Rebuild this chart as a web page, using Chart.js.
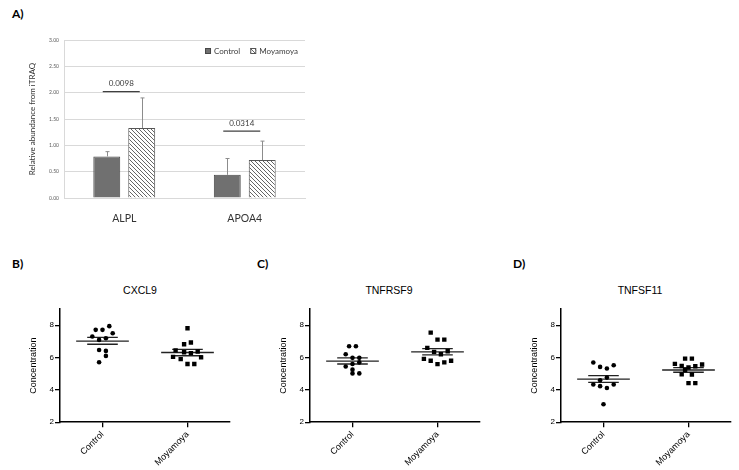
<!DOCTYPE html>
<html>
<head>
<meta charset="utf-8">
<script src="https://cdn.jsdelivr.net/npm/chart.js@4.4.1/dist/chart.umd.min.js"></script>
<style>
  body { margin: 0; background: #fff; }
  #wrap { position: relative; width: 739px; height: 470px; overflow: hidden; }
  canvas { position: absolute; }
  .lbl { position: absolute; font-family: Lato, sans-serif; font-weight: bold; font-size: 12px; color: #000; line-height: 14px; }
  .ttl { position: absolute; width: 100px; text-align: center; font-family: "Liberation Sans", Arial, sans-serif; font-size: 10.5px; color: #000; line-height: 12px; }
</style>
</head>
<body>
<div id="wrap">
  <div class="lbl" style="left:12px;top:7px">A)</div>
  <div class="lbl" style="left:12px;top:257px">B)</div>
  <div class="lbl" style="left:257px;top:257px">C)</div>
  <div class="lbl" style="left:513px;top:257px">D)</div>
  <div class="ttl" style="left:90px;top:284px">CXCL9</div>
  <div class="ttl" style="left:339px;top:284px">TNFRSF9</div>
  <div class="ttl" style="left:590px;top:284px">TNFSF11</div>
  <canvas id="chartA" width="320" height="195" style="left:0;top:30px"></canvas>
  <canvas id="chartB" width="245" height="190" style="left:0;top:280px"></canvas>
  <canvas id="chartC" width="245" height="190" style="left:250px;top:280px"></canvas>
  <canvas id="chartD" width="245" height="190" style="left:501px;top:280px"></canvas>
</div>
<script>
// --- panel A: iTRAQ ---
const genes = ['ALPL', 'APOA4'];
const controlMean = [0.79, 0.44];
const controlErr = [0.09, 0.31];
const moyaMean = [1.33, 0.72];
const moyaErr = [0.57, 0.36];
const pValues = ['0.0098', '0.0314'];
const pLineY = [2.02, 1.27];
const yTicksA = [0, 0.5, 1, 1.5, 2, 2.5, 3];

// --- panels B-D: scatter ---
const groups = ['Control', 'Moyamoya'];
const yTicksScatter = [2, 4, 6, 8];

const cxcl9CtrlY = [7.94, 7.71, 7.71, 7.50, 7.30, 7.19, 7.09, 6.47, 6.41, 6.10, 5.71];
const cxcl9CtrlJit = [0.08, -0.08, 0, 0.12, -0.12, 0.04, -0.04, -0.04, 0.04, 0.04, -0.04];
const cxcl9MoyaY = [7.81, 6.82, 6.93, 6.44, 6.33, 6.27, 6.37, 6.04, 5.90, 6.01, 5.60, 5.60];
const cxcl9MoyaJit = [0, -0.04, 0.04, -0.14, -0.04, 0.04, 0.12, -0.17, -0.08, 0.16, 0, 0.08];
const cxcl9Mean = [7.02, 6.31];
const cxcl9SemHi = [7.24, 6.51];
const cxcl9SemLo = [6.82, 6.11];

const tnfrsf9CtrlY = [6.70, 6.70, 6.20, 5.98, 5.98, 5.70, 5.60, 5.45, 5.25, 5.02, 5.02];
const tnfrsf9CtrlJit = [-0.04, 0.04, -0.08, 0, 0.08, 0.08, 0, -0.08, 0, 0, 0.08];
const tnfrsf9MoyaY = [7.54, 7.11, 7.11, 6.60, 6.35, 6.20, 6.39, 5.92, 5.80, 5.80, 5.59, 5.70];
const tnfrsf9MoyaJit = [-0.08, 0, 0.08, -0.12, -0.04, 0.04, 0.12, -0.16, -0.08, 0.16, 0, 0.08];
const tnfrsf9Mean = [5.78, 6.35];
const tnfrsf9SemHi = [5.98, 6.55];
const tnfrsf9SemLo = [5.60, 6.16];

const tnfsf11CtrlY = [5.69, 5.42, 5.32, 5.52, 4.76, 4.60, 4.33, 4.23, 4.12, 4.33, 3.11];
const tnfsf11CtrlJit = [-0.12, -0.04, 0.04, 0.12, 0.04, -0.04, -0.12, -0.04, 0.04, 0.12, 0];
const tnfsf11MoyaY = [5.93, 5.93, 5.61, 5.48, 5.38, 5.46, 5.57, 5.22, 4.96, 4.95, 4.42, 4.42];
const tnfsf11MoyaJit = [-0.04, 0.04, -0.16, -0.08, 0, 0.08, 0.16, -0.04, -0.08, 0.04, 0, 0.08];
const tnfsf11Mean = [4.66, 5.23];
const tnfsf11SemHi = [4.88, 5.38];
const tnfsf11SemLo = [4.46, 5.09];

const fontA = 'Lato, "Open Sans", sans-serif';
const fontS = '"Liberation Sans", Arial, sans-serif';

// hatch "\\" para Moyamoya
function makeHatch() {
  const c = document.createElement('canvas');
  c.width = 4; c.height = 4;
  const g = c.getContext('2d');
  g.fillStyle = '#fff';
  g.fillRect(0, 0, 4, 4);
  g.strokeStyle = '#666';
  g.lineWidth = 1;
  g.beginPath();
  g.moveTo(0, 0); g.lineTo(4, 4);
  g.moveTo(-1, 3); g.lineTo(1, 5);
  g.moveTo(3, -1); g.lineTo(5, 1);
  g.stroke();
  return g.createPattern(c, 'repeat');
}

const errorBars = {
  id: 'errorBars',
  afterDatasetsDraw(chart) {
    const ctx = chart.ctx, y = chart.scales.y;
    chart.data.datasets.forEach((ds, di) => {
      chart.getDatasetMeta(di).data.forEach((bar, i) => {
        const top = y.getPixelForValue(ds.data[i] + ds.err[i]);
        const bx = Math.round(bar.x) + 0.5;
        ctx.save();
        ctx.strokeStyle = '#8c8c8c';
        ctx.lineWidth = 1;
        ctx.beginPath();
        ctx.moveTo(bx, bar.y);
        ctx.lineTo(bx, top);
        ctx.moveTo(bx - 2, top);
        ctx.lineTo(bx + 2, top);
        ctx.stroke();
        ctx.restore();
      });
    });
  }
};

const sigLines = {
  id: 'sigLines',
  afterDatasetsDraw(chart) {
    const { ctx, scales: { x, y } } = chart;
    genes.forEach((g, i) => {
      const cx = x.getPixelForValue(i) - 3;
      const py = y.getPixelForValue(pLineY[i]);
      ctx.save();
      ctx.strokeStyle = '#404040';
      ctx.lineWidth = 1.3;
      ctx.beginPath();
      ctx.moveTo(cx - 18.5, py);
      ctx.lineTo(cx + 18.5, py);
      ctx.stroke();
      ctx.fillStyle = '#404040';
      ctx.font = '8px ' + fontA;
      ctx.textAlign = 'center';
      ctx.textBaseline = 'bottom';
      ctx.fillText(pValues[i], cx, py - 4);
      ctx.restore();
    });
  }
};

// leyenda dentro del area, arriba a la derecha
const legendA = {
  id: 'legendA',
  afterDraw(chart) {
    const ctx = chart.ctx, area = chart.chartArea;
    const yc = area.top + 11;
    let x = area.right - 7;
    ctx.save();
    ctx.font = '8px ' + fontA;
    ctx.textBaseline = 'middle';
    ctx.textAlign = 'left';
    for (let i = chart.data.datasets.length - 1; i >= 0; i--) {
      const ds = chart.data.datasets[i];
      x -= ctx.measureText(ds.label).width;
      ctx.fillStyle = '#404040';
      ctx.fillText(ds.label, x, yc);
      x -= 9;
      ctx.fillStyle = ds.backgroundColor;
      ctx.fillRect(x, yc - 3, 6, 6);
      ctx.strokeStyle = ds.borderColor;
      ctx.lineWidth = 1;
      ctx.strokeRect(x + 0.5, yc - 2.5, 5, 5);
      x -= 10;
    }
    ctx.restore();
  }
};

new Chart(document.getElementById('chartA'), {
  type: 'bar',
  data: {
    labels: genes,
    datasets: [
      { label: 'Control', data: controlMean, err: controlErr, backgroundColor: '#707070', borderColor: '#474747', borderWidth: 1 },
      { label: 'Moyamoya', data: moyaMean, err: moyaErr, backgroundColor: makeHatch(), borderColor: '#555', borderWidth: 1 }
    ]
  },
  options: {
    responsive: false,
    animation: false,
    categoryPercentage: 0.58,
    barPercentage: 0.77,
    layout: { padding: { left: 24, top: 10, right: 15, bottom: 0 } },
    plugins: {
      legend: { display: false },
      tooltip: { enabled: false }
    },
    scales: {
      x: {
        grid: { display: false },
        border: { color: '#d9d9d9' },
        ticks: { color: '#333', padding: 6, font: { size: 10.5, family: fontA } },
        afterFit: s => { s.height = 27; }
      },
      y: {
        min: 0, max: 3,
        afterBuildTicks: s => { s.ticks = yTicksA.map(v => ({ value: v })); },
        ticks: { color: '#595959', padding: 5, font: { size: 5, family: fontA }, callback: v => v.toFixed(2) },
        grid: { color: '#d9d9d9', drawTicks: false },
        border: { color: '#d9d9d9' },
        title: { display: true, text: 'Relative abundance from iTRAQ', color: '#333', font: { size: 8, family: fontA } },
        afterFit: s => { s.width = 40; }
      }
    }
  },
  plugins: [errorBars, sigLines, legendA]
});

function seg(c, w, y) {
  return {
    type: 'line',
    data: [{ x: c - w, y: y }, { x: c + w, y: y }],
    borderColor: '#222',
    borderWidth: 1.3,
    pointRadius: 0,
    showLine: true
  };
}

function makeScatter(id, ctrlJit, ctrlY, moyaJit, moyaY, mean, semHi, semLo) {
  const datasets = [
    { data: ctrlY.map((v, i) => ({ x: 0.5 + ctrlJit[i], y: v })), pointStyle: 'circle', pointRadius: 2.3, backgroundColor: '#000', borderWidth: 0 },
    { data: moyaY.map((v, i) => ({ x: 1.5 + moyaJit[i], y: v })), pointStyle: 'rect', pointRadius: 3.1, backgroundColor: '#000', borderWidth: 0 }
  ];
  [0.5, 1.5].forEach((c, g) => {
    datasets.push(seg(c, 0.31, mean[g]), seg(c, 0.18, semHi[g]), seg(c, 0.18, semLo[g]));
  });
  new Chart(document.getElementById(id), {
    type: 'scatter',
    data: { datasets },
    options: {
      responsive: false,
      animation: false,
      layout: { padding: { left: 24, top: 29, right: 15, bottom: 0 } },
      plugins: { legend: { display: false }, tooltip: { enabled: false } },
      scales: {
        x: {
          type: 'linear', min: 0, max: 2,
          afterBuildTicks: s => { s.ticks = [{ value: 0.5 }, { value: 1.5 }]; },
          ticks: { color: '#000', padding: 2, minRotation: 45, maxRotation: 45, font: { size: 9, family: fontS }, callback: (v, i) => groups[i] },
          grid: { drawOnChartArea: false, color: '#000', tickLength: 5, lineWidth: 1.3 },
          border: { color: '#000', width: 1.5 }
        },
        y: {
          min: 2, max: 9,
          afterBuildTicks: s => { s.ticks = yTicksScatter.map(v => ({ value: v })); },
          ticks: { color: '#000', padding: 1, font: { size: 8, family: fontS } },
          grid: { drawOnChartArea: false, color: '#000', tickLength: 5, lineWidth: 1.3 },
          border: { color: '#000', width: 1.5 },
          title: { display: true, text: 'Concentration', color: '#000', font: { size: 9, family: fontS } },
          afterFit: s => { s.width = 36; }
        }
      }
    }
  });
}

makeScatter('chartB', cxcl9CtrlJit, cxcl9CtrlY, cxcl9MoyaJit, cxcl9MoyaY, cxcl9Mean, cxcl9SemHi, cxcl9SemLo);
makeScatter('chartC', tnfrsf9CtrlJit, tnfrsf9CtrlY, tnfrsf9MoyaJit, tnfrsf9MoyaY, tnfrsf9Mean, tnfrsf9SemHi, tnfrsf9SemLo);
makeScatter('chartD', tnfsf11CtrlJit, tnfsf11CtrlY, tnfsf11MoyaJit, tnfsf11MoyaY, tnfsf11Mean, tnfsf11SemHi, tnfsf11SemLo);
</script>
</body>
</html>
